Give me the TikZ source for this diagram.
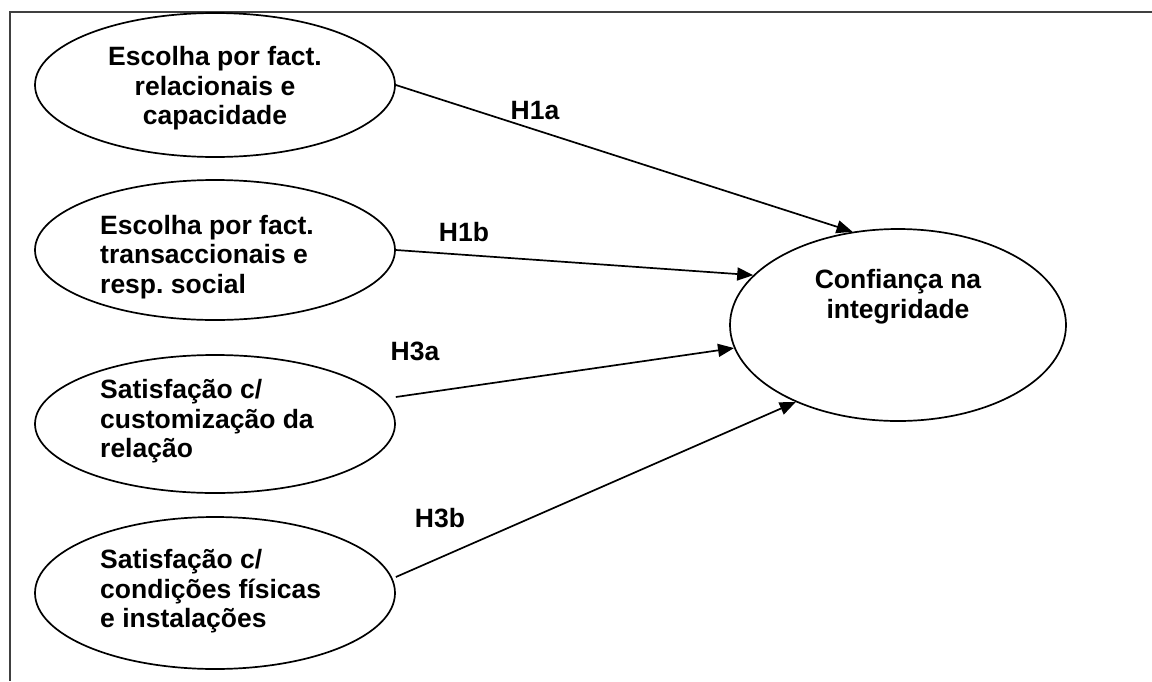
\documentclass[tikz,border=0pt]{standalone}
\usepackage{fontspec}
\setmainfont{Liberation Sans}
\usetikzlibrary{arrows.meta,shapes.geometric,calc}
\frenchspacing
\begin{document}
\begin{tikzpicture}[x=1pt,y=-1pt,
  txt/.style={font=\bfseries\fontsize{26.5}{29.5}\selectfont, inner sep=0pt},
  factor/.style={ellipse, draw, line width=1.7pt, inner sep=0pt,
                 minimum width=360pt, minimum height=#1},
  link/.style={line width=1.7pt, -{Triangle[length=16pt,width=13pt]}}]
\useasboundingbox (0,0) rectangle (1152,681);
\fill[white] (0,0) rectangle (1152,681);
% open frame: top and left edges only
\draw[line width=2pt, black!75] (1152,12) -- (10,12) -- (10,681);

% antecedent constructs
\node[factor=144pt] (e1) at (215,85) {};
\node[factor=140pt] (e2) at (215,250) {};
\node[factor=138pt] (e3) at (215,424) {};
\node[factor=152pt] (e4) at (215,593) {};
% outcome construct
\node[ellipse, draw, line width=1.7pt, inner sep=0pt,
      minimum width=336pt, minimum height=192pt] (e5) at (898,325) {};

% construct labels
\node[txt, align=center] (t1) at (215,88.5) {Escolha por fact.\\relacionais e\\capacidade};
\node[txt, align=left, anchor=west] (t2) at (100,257) {Escolha por fact.\\transaccionais e\\resp. social};
\node[txt, align=left, anchor=west] (t3) at (100,421.5) {Satisfação c/\\customização da\\relação};
\node[txt, align=left, anchor=west] (t4) at (100,591.5) {Satisfação c/\\condições físicas\\e instalações};
\node[txt, align=center] (t5) at (898,296.5) {Confiança na\\integridade};

% hypotheses
\draw[link] (e1.east) -- (e5.116);
\draw[link] (e2.east) -- (e5.161);
\draw[link] ($(e3.east)+(0,-27)$) -- (e5.188);
\draw[link] ($(e4.east)+(0,-16)$) -- (e5.217);

\node[txt] (h1a) at (535,111) {H1a};
\node[txt] (h1b) at (464,232) {H1b};
\node[txt] (h3a) at (415,351) {H3a};
\node[txt] (h3b) at (440,518) {H3b};
\end{tikzpicture}
\end{document}
